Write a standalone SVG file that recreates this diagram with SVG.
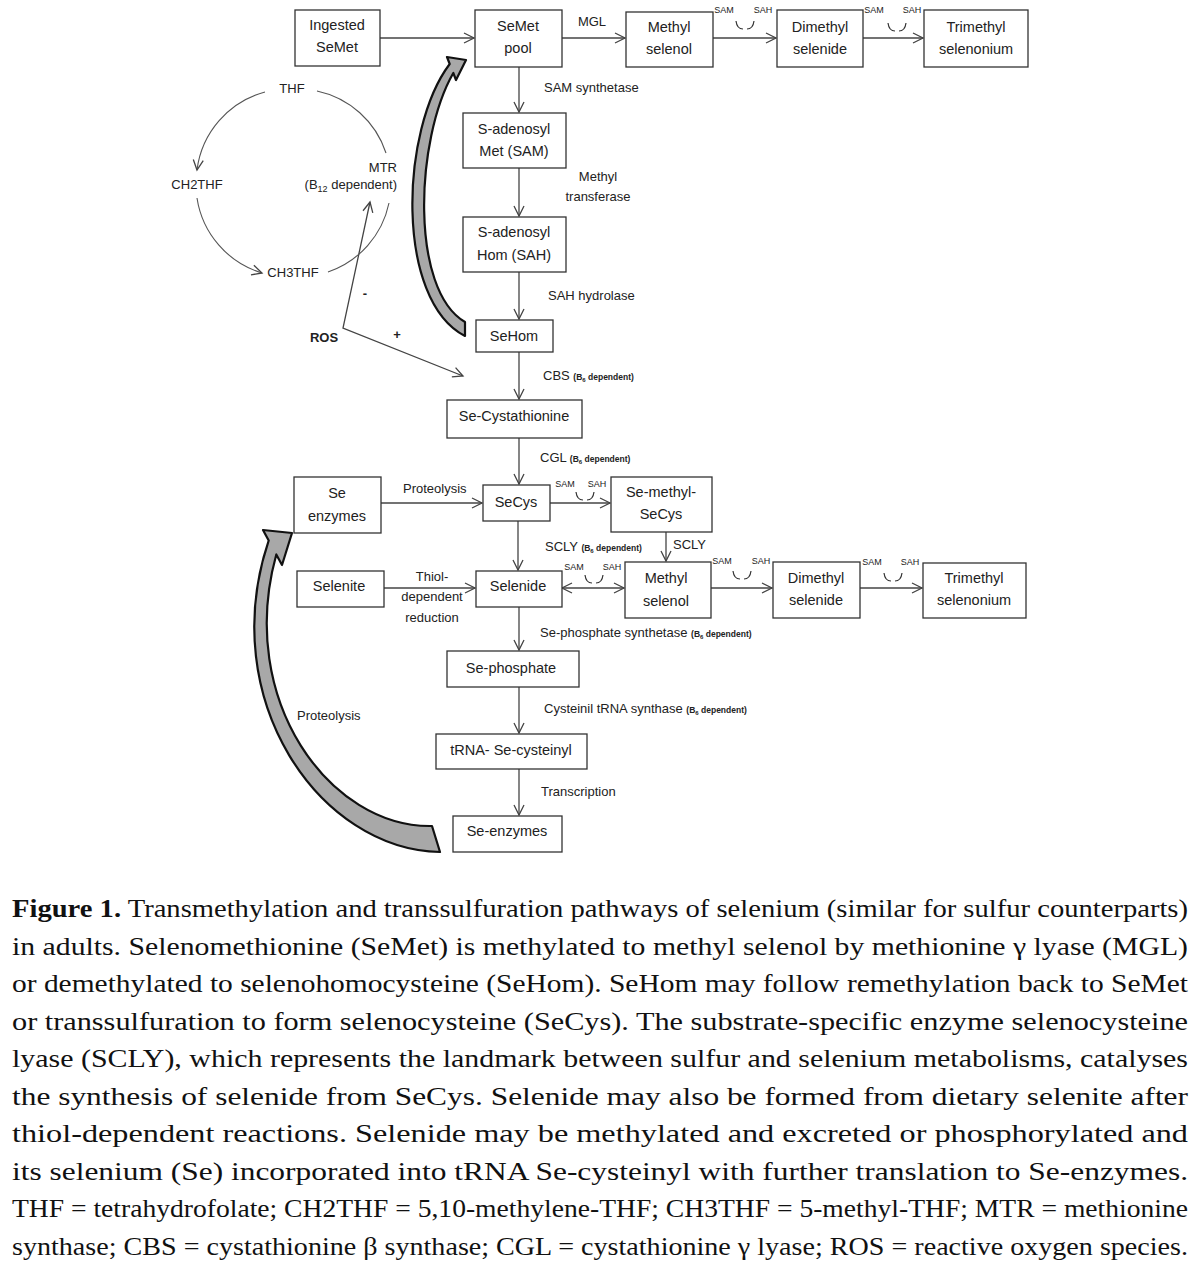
<svg xmlns="http://www.w3.org/2000/svg" width="1200" height="1268" viewBox="0 0 1200 1268">
<style>
.box{fill:#fff;stroke:#333;stroke-width:1.3}
.nt{font-family:"Liberation Sans",Arial,sans-serif;font-size:14.5px;fill:#222;text-anchor:middle}
.lb{font-family:"Liberation Sans",Arial,sans-serif;font-size:13px;fill:#222}
.sm{font-family:"Liberation Sans",Arial,sans-serif;font-size:9px;fill:#222;text-anchor:middle}
.b6{font-size:8.5px;font-weight:bold}
.cn{stroke:#444;stroke-width:1.3;fill:none;marker-end:url(#ah)}
.cy{stroke:#555;stroke-width:1.1;fill:none}
.arc{stroke:#333;stroke-width:1.2;fill:none}
.big{fill:#a8a8a8;stroke:#111;stroke-width:2.2;stroke-linejoin:round}
.cap{font-family:"Liberation Serif","Times New Roman",serif;font-size:26px;fill:#111}
</style>
<defs>
<marker id="ah" markerUnits="userSpaceOnUse" markerWidth="14" markerHeight="12" viewBox="0 0 14 12" refX="11" refY="6" orient="auto-start-reverse">
<path d="M1,1 L11,6 L1,11" fill="none" stroke="#444" stroke-width="1.3"/>
</marker>
</defs>

<g id="connectors">
<path class="cn" d="M380,38 H474"/>
<path class="cn" d="M562,38 H625"/>
<path class="cn" d="M713,38 H776"/>
<path class="cn" d="M863,38 H923"/>
<path class="cn" d="M519,67 V112"/>
<path class="cn" d="M519,168 V216"/>
<path class="cn" d="M519,272 V319"/>
<path class="cn" d="M519,352 V399"/>
<path class="cn" d="M519,438 V484"/>
<path class="cn" d="M381,503 H482"/>
<path class="cn" d="M550,503 H610"/>
<path class="cn" d="M518,521 V570"/>
<path class="cn" d="M666,532 V561"/>
<path class="cn" d="M384,588 H475"/>
<path class="cn" d="M562,588 H624" marker-start="url(#ah)"/>
<path class="cn" d="M711,588 H772"/>
<path class="cn" d="M860,588 H922"/>
<path class="cn" d="M519,607 V650"/>
<path class="cn" d="M519,687 V733"/>
<path class="cn" d="M519,769 V815"/>
<path class="cn" d="M370,202 L343,328 L463,376" marker-start="url(#ah)"/>
<path class="cy" d="M265,92 A93,93 0 0 0 197,170" marker-end="url(#ah)"/>
<path class="cy" d="M197,198 A93,93 0 0 0 262,273" marker-end="url(#ah)"/>
<path class="cy" d="M328,272 A93,93 0 0 0 389,203"/>
<path class="cy" d="M386,153 A93,93 0 0 0 317,91"/>
<path class="arc" d="M736,21 Q737,29 743,29 M747,29 Q753,29 754,21"/>
<path class="arc" d="M888,23 Q889,31 895,31 M899,31 Q905,31 906,23"/>
<path class="arc" d="M576,492 Q577,500 583,500 M587,500 Q593,500 594,492"/>
<path class="arc" d="M585,575 Q586,583 592,583 M596,583 Q602,583 603,575"/>
<path class="arc" d="M733,571 Q734,579 740,579 M744,579 Q750,579 751,571"/>
<path class="arc" d="M884,573 Q885,581 891,581 M895,581 Q901,581 902,573"/>
<path class="big" d="M465,336 C395,300 400,130 449.7,64 L447,57 L466,60 L456,80 L453.3,73 C415,140 410,290 465,322 Z"/>
<path class="big" d="M440,852 C320,850 215,700 268.7,540.5 L263,530 L292,533 L282,565 L276.3,554.5 C236,700 330,828 432,826 Z"/>
</g>

<g id="labels">
<text class="lb" x="592" y="26" text-anchor="middle">MGL</text>
<text class="sm" x="724" y="13">SAM</text><text class="sm" x="763" y="13">SAH</text>
<text class="sm" x="874" y="13">SAM</text><text class="sm" x="912" y="13">SAH</text>
<text class="lb" x="544" y="92">SAM synthetase</text>
<text class="lb" x="598" y="181" text-anchor="middle">Methyl</text>
<text class="lb" x="598" y="201" text-anchor="middle">transferase</text>
<text class="lb" x="548" y="300">SAH hydrolase</text>
<text class="lb" x="543" y="380">CBS <tspan class="b6">(B<tspan font-size="6" dy="2">6</tspan><tspan dy="-2"> dependent)</tspan></tspan></text>
<text class="lb" x="540" y="462">CGL <tspan class="b6">(B<tspan font-size="6" dy="2">6</tspan><tspan dy="-2"> dependent)</tspan></tspan></text>
<text class="lb" x="403" y="493">Proteolysis</text>
<text class="sm" x="565" y="487">SAM</text><text class="sm" x="597" y="487">SAH</text>
<text class="lb" x="545" y="551">SCLY <tspan class="b6">(B<tspan font-size="6" dy="2">6</tspan><tspan dy="-2"> dependent)</tspan></tspan></text>
<text class="lb" x="673" y="549">SCLY</text>
<text class="lb" x="432" y="581" text-anchor="middle">Thiol-</text>
<text class="lb" x="432" y="601" text-anchor="middle">dependent</text>
<text class="lb" x="432" y="622" text-anchor="middle">reduction</text>
<text class="sm" x="574" y="570">SAM</text><text class="sm" x="612" y="570">SAH</text>
<text class="sm" x="722" y="564">SAM</text><text class="sm" x="761" y="564">SAH</text>
<text class="sm" x="872" y="565">SAM</text><text class="sm" x="910" y="565">SAH</text>
<text class="lb" x="540" y="637">Se-phosphate  synthetase <tspan class="b6">(B<tspan font-size="6" dy="2">6</tspan><tspan dy="-2"> dependent)</tspan></tspan></text>
<text class="lb" x="544" y="713">Cysteinil tRNA synthase <tspan class="b6">(B<tspan font-size="6" dy="2">6</tspan><tspan dy="-2"> dependent)</tspan></tspan></text>
<text class="lb" x="541" y="796">Transcription</text>
<text class="lb" x="297" y="720">Proteolysis</text>
<text class="lb" x="292" y="93" text-anchor="middle">THF</text>
<text class="lb" x="197" y="189" text-anchor="middle">CH2THF</text>
<text class="lb" x="293" y="277" text-anchor="middle">CH3THF</text>
<text class="lb" x="397" y="172" text-anchor="end">MTR</text>
<text class="lb" x="397" y="189" text-anchor="end">(B<tspan font-size="9" dy="3">12</tspan><tspan dy="-3"> dependent)</tspan></text>
<text class="lb" x="324" y="342" text-anchor="middle" font-weight="bold" font-size="14">ROS</text>
<text class="lb" x="365" y="298" text-anchor="middle" font-weight="bold">-</text>
<text class="lb" x="397" y="339" text-anchor="middle" font-weight="bold">+</text>
</g>

<g id="n-ingested"><rect class="box" x="295" y="10" width="85" height="56"/><text class="nt" x="337" y="30">Ingested</text><text class="nt" x="337" y="52">SeMet</text></g>
<g id="n-semetpool"><rect class="box" x="475" y="10" width="87" height="57"/><text class="nt" x="518" y="31">SeMet</text><text class="nt" x="518" y="53">pool</text></g>
<g id="n-methylselenol1"><rect class="box" x="626" y="12" width="87" height="55"/><text class="nt" x="669" y="32">Methyl</text><text class="nt" x="669" y="54">selenol</text></g>
<g id="n-dimethyl1"><rect class="box" x="777" y="10" width="86" height="57"/><text class="nt" x="820" y="32">Dimethyl</text><text class="nt" x="820" y="54">selenide</text></g>
<g id="n-trimethyl1"><rect class="box" x="924" y="10" width="104" height="57"/><text class="nt" x="976" y="32">Trimethyl</text><text class="nt" x="976" y="54">selenonium</text></g>
<g id="n-sam"><rect class="box" x="463" y="113" width="103" height="55"/><text class="nt" x="514" y="134">S-adenosyl</text><text class="nt" x="514" y="156">Met (SAM)</text></g>
<g id="n-sah"><rect class="box" x="463" y="217" width="103" height="55"/><text class="nt" x="514" y="237">S-adenosyl</text><text class="nt" x="514" y="260">Hom (SAH)</text></g>
<g id="n-sehom"><rect class="box" x="476" y="320" width="77" height="32"/><text class="nt" x="514" y="341">SeHom</text></g>
<g id="n-secyst"><rect class="box" x="447" y="400" width="135" height="38"/><text class="nt" x="514" y="421">Se-Cystathionine</text></g>
<g id="n-seenzymes1"><rect class="box" x="294" y="477" width="87" height="56"/><text class="nt" x="337" y="498">Se</text><text class="nt" x="337" y="521">enzymes</text></g>
<g id="n-secys"><rect class="box" x="483" y="485" width="67" height="36"/><text class="nt" x="516" y="507">SeCys</text></g>
<g id="n-semethylsecys"><rect class="box" x="611" y="477" width="101" height="55"/><text class="nt" x="661" y="497">Se-methyl-</text><text class="nt" x="661" y="519">SeCys</text></g>
<g id="n-selenite"><rect class="box" x="297" y="571" width="87" height="36"/><text class="nt" x="339" y="591">Selenite</text></g>
<g id="n-selenide"><rect class="box" x="476" y="571" width="86" height="36"/><text class="nt" x="518" y="591">Selenide</text></g>
<g id="n-methylselenol2"><rect class="box" x="625" y="562" width="86" height="56"/><text class="nt" x="666" y="583">Methyl</text><text class="nt" x="666" y="606">selenol</text></g>
<g id="n-dimethyl2"><rect class="box" x="773" y="562" width="87" height="56"/><text class="nt" x="816" y="583">Dimethyl</text><text class="nt" x="816" y="605">selenide</text></g>
<g id="n-trimethyl2"><rect class="box" x="923" y="563" width="103" height="55"/><text class="nt" x="974" y="583">Trimethyl</text><text class="nt" x="974" y="605">selenonium</text></g>
<g id="n-sephosphate"><rect class="box" x="447" y="651" width="132" height="36"/><text class="nt" x="511" y="673">Se-phosphate</text></g>
<g id="n-trna"><rect class="box" x="436" y="734" width="151" height="35"/><text class="nt" x="511" y="755">tRNA- Se-cysteinyl</text></g>
<g id="n-seenzymes2"><rect class="box" x="453" y="816" width="109" height="36"/><text class="nt" x="507" y="836">Se-enzymes</text></g>

<g id="caption">
<text class="cap" x="12" y="917" textLength="1176" lengthAdjust="spacingAndGlyphs"><tspan font-weight="bold">Figure 1.</tspan> Transmethylation and transsulfuration pathways of selenium (similar for sulfur counterparts)</text>
<text class="cap" x="12" y="954.5" textLength="1176" lengthAdjust="spacingAndGlyphs">in adults. Selenomethionine (SeMet) is methylated to methyl selenol by methionine γ lyase (MGL)</text>
<text class="cap" x="12" y="992" textLength="1176" lengthAdjust="spacingAndGlyphs">or demethylated to selenohomocysteine (SeHom). SeHom may follow remethylation back to SeMet</text>
<text class="cap" x="12" y="1029.5" textLength="1176" lengthAdjust="spacingAndGlyphs">or transsulfuration to form selenocysteine (SeCys).  The substrate-specific enzyme selenocysteine</text>
<text class="cap" x="12" y="1067" textLength="1176" lengthAdjust="spacingAndGlyphs">lyase (SCLY), which represents the landmark between sulfur and selenium metabolisms, catalyses</text>
<text class="cap" x="12" y="1104.5" textLength="1176" lengthAdjust="spacingAndGlyphs">the synthesis of selenide from SeCys.  Selenide may also be formed from dietary selenite after</text>
<text class="cap" x="12" y="1142" textLength="1176" lengthAdjust="spacingAndGlyphs">thiol-dependent reactions.  Selenide may be methylated and excreted or phosphorylated and</text>
<text class="cap" x="12" y="1179.5" textLength="1176" lengthAdjust="spacingAndGlyphs">its selenium (Se) incorporated into tRNA Se-cysteinyl with further translation to Se-enzymes.</text>
<text class="cap" x="12" y="1217" textLength="1176" lengthAdjust="spacingAndGlyphs">THF = tetrahydrofolate; CH2THF = 5,10-methylene-THF; CH3THF = 5-methyl-THF; MTR = methionine</text>
<text class="cap" x="12" y="1254.5" textLength="1176" lengthAdjust="spacingAndGlyphs">synthase; CBS = cystathionine β synthase; CGL = cystathionine γ lyase; ROS = reactive oxygen species.</text>
</g>
</svg>
